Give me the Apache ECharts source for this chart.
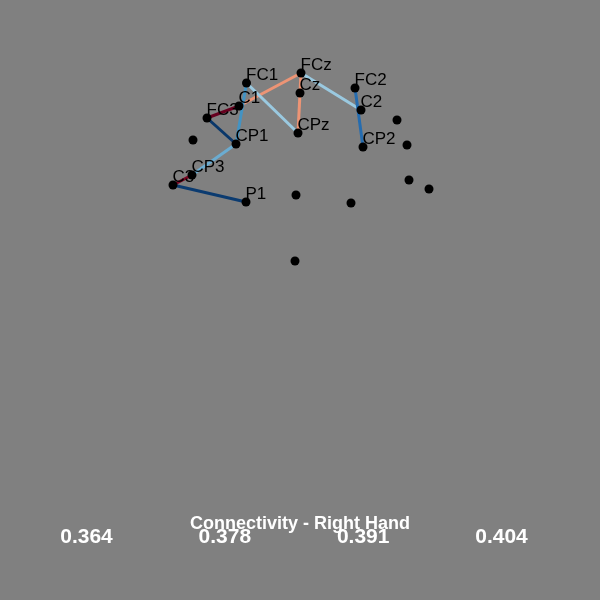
<!DOCTYPE html>
<html>
<head>
<meta charset="utf-8">
<script src="https://cdn.jsdelivr.net/npm/echarts@6/dist/echarts.min.js"></script>
<style>
html,body{margin:0;padding:0;background:#808080}
#chart{width:600px;height:600px}
</style>
</head>
<body>
<div id="chart"></div>
<script>
// electrode positions (screen-space units of the flat head view)
var node_names = ['FCz','Cz','CPz','FC1','C1','CP1','FC3','C3','CP3','P1','FC2','C2','CP2','','','','','','','',''];
var node_x = [301, 300, 298, 246.5, 239, 236, 207, 173, 192, 246, 355, 361, 363, 193, 397, 407, 296, 351, 409, 429, 295];
var node_y = [73, 93, 133, 83, 106, 144, 118, 185, 175, 202, 88, 110, 147, 140, 120, 145, 195, 203, 180, 189, 261];

// connections and their strength
var edge_from = ['C1','FC1','FC1','FC3','FC3','FCz','FCz','FC2','CP1','C3','C3'];
var edge_to = ['FCz','CPz','CP1','C1','CP1','CPz','C2','CP2','CP3','CP3','P1'];
var edge_value = [0.393, 0.3765, 0.372, 0.404, 0.3645, 0.393, 0.3765, 0.3685, 0.374, 0.403, 0.3648];

var tick_labels = ['0.364','0.378','0.391','0.404'];
var color_min = 0.364, color_max = 0.404;
var rdbu_r = ['#053061','#2166ac','#4393c3','#92c5de','#d1e5f0','#f7f7f7','#fddbc7','#f4a582','#d6604d','#b2182b','#67001f'];

function node_pos(name){
  var i = node_names.indexOf(name)
  return [node_x[i], node_y[i]]
}

var points = node_x.map(function(x, i){ return {value: [x, node_y[i]], name: node_names[i]} })
var links = edge_from.map(function(f, i){
  var t = (edge_value[i] - color_min) / (color_max - color_min)
  return {
    coords: [node_pos(f), node_pos(edge_to[i])],
    lineStyle: {color: echarts.color.lerp(Math.max(0, Math.min(1, t)), rdbu_r)}
  }
})

var chart_div = echarts.init(document.getElementById('chart'));
option = {
  backgroundColor: '#808080',
  animation: false,
  title: {
    text: 'Connectivity - Right Hand',
    left: 'center',
    top: 510,
    textStyle: {color: '#fff', fontSize: 18, fontWeight: 'bold', fontFamily: 'Liberation Sans'}
  },
  grid: [
    {left: 0, right: 0, top: 0, bottom: 0},
    {left: 86.5, right: 98.5, top: 520, height: 1}
  ],
  xAxis: [
    {gridIndex: 0, type: 'value', min: 0, max: 600, show: false},
    {
      gridIndex: 1, type: 'value', min: 0, max: 3, interval: 1,
      axisLine: {show: false}, axisTick: {show: false}, splitLine: {show: false},
      axisLabel: {
        margin: 6, color: '#fff', fontSize: 21, fontWeight: 'bold', fontFamily: 'Liberation Sans',
        formatter: function(v){ return tick_labels[Math.round(v)] }
      }
    }
  ],
  yAxis: [
    {gridIndex: 0, type: 'value', min: 0, max: 600, inverse: true, show: false},
    {gridIndex: 1, type: 'value', show: false}
  ],
  series: [
    {
      type: 'lines',
      coordinateSystem: 'cartesian2d',
      xAxisIndex: 0, yAxisIndex: 0,
      lineStyle: {width: 3, opacity: 1},
      z: 1,
      data: links
    },
    {
      type: 'scatter',
      xAxisIndex: 0, yAxisIndex: 0,
      symbolSize: 9,
      itemStyle: {color: '#000', opacity: 1},
      z: 2,
      label: {
        show: true,
        position: 'right',
        distance: 0,
        offset: [-5, -8],
        color: '#000',
        fontSize: 17,
        fontFamily: 'Liberation Sans',
        formatter: function(p){ return p.name }
      },
      data: points
    }
  ]
};
chart_div.setOption(option);
</script>
</body>
</html>
